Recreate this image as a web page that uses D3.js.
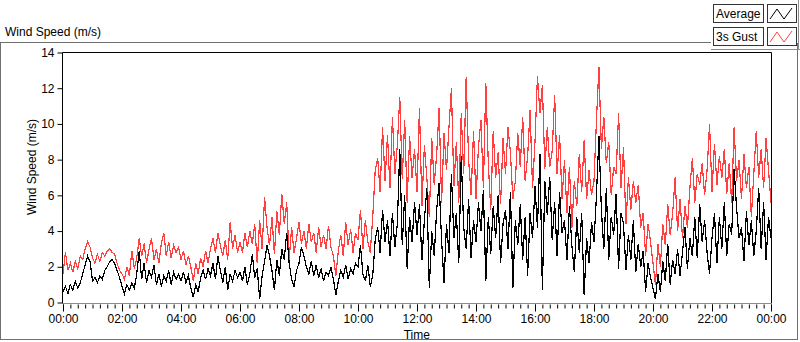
<!DOCTYPE html>
<html>
<head>
<meta charset="utf-8">
<script src="https://cdn.jsdelivr.net/npm/d3@7"></script>
<style>
html,body{margin:0;padding:0;background:#fff;}
svg{display:block;font-family:"Liberation Sans",Arial,sans-serif;}
</style>
</head>
<body>
<svg id="chart" width="800" height="342"></svg>
<script>
// 5-minute samples, 00:00 .. 24:00
const average = [
  0.6,0.9,0.5,1.0,0.7,1.2,0.8,1.1,1.6,2.1,2.6,2.3,
  1.2,1.4,1.1,1.5,1.3,1.8,2.0,2.3,2.4,2.2,1.8,1.4,
  0.9,0.5,1.0,0.7,1.1,0.8,1.6,2.9,1.3,2.2,1.1,1.8,
  1.4,2.1,1.0,1.6,0.9,1.5,1.2,1.8,1.0,1.7,1.3,1.6,
  1.2,1.7,1.1,1.5,0.8,0.3,1.0,0.6,1.4,1.8,1.3,1.9,
  1.5,2.2,1.3,2.6,1.8,1.1,2.0,0.7,1.6,1.2,1.8,1.4,
  1.7,1.2,2.0,1.0,1.6,2.7,1.4,1.9,0.2,1.5,2.3,3.2,
  2.6,1.8,0.7,2.4,1.5,3.0,2.4,3.9,2.2,1.3,0.9,1.8,
  2.2,3.1,2.6,2.0,1.6,2.3,1.5,2.1,1.4,1.9,1.2,1.7,
  1.5,2.0,1.3,0.4,1.2,1.8,1.4,2.1,1.3,1.9,1.6,2.2,
  2.0,3.2,1.6,1.2,2.1,0.9,1.5,3.5,4.2,2.8,5.2,3.4,
  4.6,2.6,5.0,3.1,4.4,8.6,3.2,6.0,1.9,4.8,3.4,5.6,
  3.8,5.5,2.4,4.6,6.4,0.8,4.0,2.6,5.2,6.7,3.5,1.1,
  4.4,2.8,7.2,3.6,5.0,2.2,8.2,4.2,3.0,5.8,2.5,4.6,
  3.4,5.6,4.0,6.3,1.2,4.8,2.7,5.4,3.6,6.0,2.2,4.4,
  5.2,3.0,6.2,0.8,4.6,3.2,5.5,2.4,4.8,1.5,5.0,3.6,
  6.5,4.2,8.3,0.7,6.8,4.9,7.0,3.5,5.6,2.6,6.2,3.9,
  4.6,2.4,5.4,3.2,1.7,4.8,2.8,5.0,0.4,3.6,2.2,4.5,
  3.4,6.0,9.3,5.2,3.0,6.4,2.4,4.8,3.8,6.1,1.9,5.0,
  4.4,1.8,3.8,2.4,4.6,1.7,3.3,2.0,2.9,0.6,2.2,1.4,
  0.8,0.2,1.6,0.6,2.3,1.2,3.3,1.0,2.4,1.6,3.0,1.5,
  2.8,4.2,1.9,3.6,2.6,4.8,2.5,5.5,3.4,4.6,2.8,1.6,
  3.6,5.0,2.2,4.8,3.0,5.6,2.6,4.4,3.8,7.5,5.3,3.6,
  4.2,2.3,5.1,3.2,4.6,2.6,4.0,6.4,3.0,5.6,2.4,4.8,
  3.6
];
const gust = [
  1.6,2.8,1.8,2.2,1.7,2.3,1.9,2.6,2.4,3.0,3.4,3.1,
  2.5,2.2,2.7,2.3,2.8,2.6,2.9,3.0,2.8,2.7,2.2,1.8,
  1.6,1.3,2.0,1.5,2.9,1.9,2.5,3.6,2.6,3.3,2.2,3.0,
  3.6,2.4,3.0,2.2,3.3,3.9,2.6,3.4,2.5,3.2,2.8,3.1,
  2.4,2.9,2.1,2.6,2.0,1.2,2.2,1.6,2.5,2.0,2.9,2.2,
  3.0,3.6,2.8,3.9,3.2,2.6,3.5,2.4,4.5,3.0,3.8,2.8,
  3.4,2.8,3.9,3.1,4.0,3.3,4.4,2.2,4.6,3.0,5.9,4.2,
  3.2,4.8,2.7,5.1,3.8,6.1,4.4,5.6,2.4,4.2,2.8,3.6,
  4.5,3.3,4.0,3.0,4.4,3.4,3.9,2.8,4.2,3.1,3.8,3.0,
  4.3,3.1,2.6,1.5,2.9,3.8,2.6,4.5,3.2,4.1,2.8,3.9,
  3.5,5.2,3.0,4.6,3.4,2.8,4.8,7.4,8.1,6.2,9.8,6.8,
  9.4,6.4,10.4,7.2,8.8,11.5,6.9,10.2,5.6,9.3,7.0,8.6,
  6.2,10.9,5.4,8.8,7.0,4.8,9.2,6.6,8.3,10.9,5.6,9.5,
  7.4,9.8,12.0,6.5,9.0,5.6,10.6,7.2,12.6,8.0,6.0,9.6,
  5.8,8.7,10.2,6.4,12.3,7.8,5.2,9.6,7.0,8.4,5.5,9.2,
  7.2,9.8,8.4,5.8,6.8,9.5,7.6,10.4,6.8,8.2,10.8,6.4,
  9.0,12.7,10.6,12.2,7.5,9.8,7.6,8.5,11.6,7.2,9.4,5.8,
  8.0,5.0,7.6,4.2,6.8,5.4,8.3,6.2,9.1,5.8,7.4,6.0,
  6.8,10.2,13.2,8.6,10.4,7.8,9.0,6.0,7.6,7.2,10.6,6.4,
  8.7,4.4,7.0,5.2,6.8,5.6,6.6,4.2,5.0,2.6,4.4,3.4,
  2.2,1.0,3.3,2.0,4.4,3.2,5.5,3.8,5.0,7.0,4.0,5.8,
  3.6,5.4,4.2,6.4,8.1,5.6,7.2,6.6,7.8,6.0,7.4,10.0,
  6.2,8.9,6.6,8.2,7.0,8.6,6.1,7.8,5.6,9.8,6.8,8.0,
  5.8,8.3,6.4,7.6,4.8,7.2,9.6,7.0,8.6,6.4,9.2,7.4,
  5.6
];
const sampleMinutes = 5;
const yTicks = [0,2,4,6,8,10,12,14];
const xTickHours = [0,2,4,6,8,10,12,14,16,18,20,22,24];
const xTickLabels = ["00:00","02:00","04:00","06:00","08:00","10:00","12:00","14:00","16:00","18:00","20:00","22:00","00:00"];
const seriesNames = ["Average","3s Gust"];
const seriesColors = ["#000000","#ff4040"];

const svg = d3.select("#chart");
const L = 62.5, R = 771, T = 52.5, B = 302.5;
const x = d3.scaleLinear().domain([0,24]).range([L+0.5, R]);
const y = d3.scaleLinear().domain([0,14]).range([B, T]);

// outer frame
svg.append("rect").attr("x",0.5).attr("y",42.5).attr("width",797).attr("height",297)
  .attr("fill","#fff").attr("stroke","#6f6f6f");
svg.append("line").attr("x1",711).attr("x2",800).attr("y1",42.5).attr("y2",42.5).attr("stroke","#fff").attr("stroke-width",1);

// top-left title
svg.append("text").attr("x",5).attr("y",36).attr("font-size",12).attr("fill","#000").text("Wind Speed (m/s)");

// plot area
svg.append("rect").attr("x",L).attr("y",T).attr("width",R-L).attr("height",B-T+0.5)
  .attr("fill","#fff").attr("stroke","none");

// series lines
const line = d3.line().x((d,i)=>x(i*sampleMinutes/60)).y(d=>y(d)).curve(d3.curveLinear);
const g = svg.append("g").attr("shape-rendering","crispEdges");
g.append("path").datum(gust).attr("d",line).attr("fill","none").attr("stroke",seriesColors[1]).attr("stroke-width",1.2);
g.append("path").datum(average).attr("d",line).attr("fill","none").attr("stroke",seriesColors[0]).attr("stroke-width",1.2);

// plot border
svg.append("line").attr("x1",L).attr("x2",R+0.5).attr("y1",T).attr("y2",T).attr("stroke","#000");
svg.append("line").attr("x1",R+0.5).attr("x2",R+0.5).attr("y1",T).attr("y2",B+1).attr("stroke","#000");
svg.append("line").attr("x1",L).attr("x2",L).attr("y1",T).attr("y2",B+1).attr("stroke","#000");
svg.append("line").attr("x1",L).attr("x2",R+0.5).attr("y1",B+1).attr("y2",B+1).attr("stroke","#8c8c8c");

// y axis
const yAxis = d3.axisLeft(y).tickValues(yTicks).tickSize(5).tickPadding(3).tickFormat(d3.format("d"));
const ya = svg.append("g").attr("transform",`translate(${L},0)`).call(yAxis);
ya.select(".domain").remove();
ya.selectAll("text").attr("font-size",12).attr("font-family","Liberation Sans, Arial, sans-serif").attr("fill","#000");
ya.selectAll("line").attr("stroke","#000");

// x axis: minor ticks every 15 min, major every 2 h
const minor = d3.range(0,24.001,0.25);
const xAxisMinor = d3.axisBottom(x).tickValues(minor).tickSize(4).tickFormat("");
const xm = svg.append("g").attr("transform",`translate(0,${B+2})`).call(xAxisMinor);
xm.select(".domain").remove();
xm.selectAll("line").attr("stroke","#000");
const xAxis = d3.axisBottom(x).tickValues(xTickHours).tickSize(7).tickPadding(3).tickFormat((d,i)=>xTickLabels[i]);
const xa = svg.append("g").attr("transform",`translate(0,${B+2})`).call(xAxis);
xa.select(".domain").remove();
xa.selectAll("line").attr("stroke","#000");
xa.selectAll("text").attr("font-size",12).attr("font-family","Liberation Sans, Arial, sans-serif").attr("fill","#000");

// axis titles
svg.append("text").attr("x",(L+R)/2).attr("y",339).attr("text-anchor","middle").attr("font-size",12).attr("fill","#000").text("Time");
svg.append("text").attr("transform","translate(36,167) rotate(-90)").attr("text-anchor","middle").attr("font-size",12).attr("fill","#000").text("Wind Speed (m/s)");

// legend
const lg = svg.append("g");
seriesNames.forEach((name,i)=>{
  const yy = 4 + i*23;
  lg.append("rect").attr("x",713.5).attr("y",yy+0.5).attr("width",50).attr("height",18).attr("fill","#fff").attr("stroke","#333");
  lg.append("text").attr("x",716).attr("y",yy+14).attr("font-size",12).attr("fill","#000").text(name);
  lg.append("rect").attr("x",767.5).attr("y",yy+0.5).attr("width",29).attr("height",18).attr("fill","#fff").attr("stroke","#333");
  const iconPts = [[770,yy+15],[777,yy+5],[784,yy+15],[792,yy+4]];
  lg.append("path").attr("d",d3.line()(iconPts)).attr("fill","none").attr("stroke",seriesColors[i]).attr("stroke-width",1);
});
svg.append("line").attr("x1",711).attr("x2",800).attr("y1",49.5).attr("y2",49.5).attr("stroke","#8c8c8c");
svg.append("line").attr("x1",798.5).attr("x2",798.5).attr("y1",0).attr("y2",50).attr("stroke","#8c8c8c");
</script>
</body>
</html>
